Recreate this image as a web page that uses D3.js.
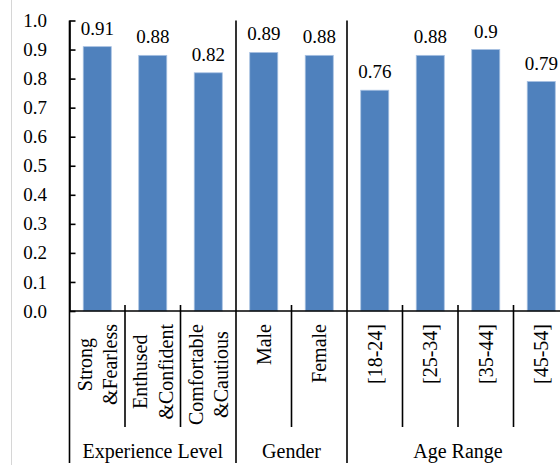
<!DOCTYPE html>
<html>
<head>
<meta charset="utf-8">
<script src="https://cdn.jsdelivr.net/npm/d3@7"></script>
<style>
  html, body { margin: 0; padding: 0; background: #fff; }
  svg { display: block; }
  text { font-family: "Liberation Serif", "Times New Roman", serif; fill: #000; }
</style>
</head>
<body>
<svg id="chart" width="560" height="466"></svg>
<script>
// Category labels (lines separated by "\n"), the group each belongs to, and scores
const categories = [
  "Strong\n&Fearless", "Enthused\n&Confident", "Comfortable\n&Cautious",
  "Male", "Female",
  "[18-24]", "[25-34]", "[35-44]", "[45-54]"
];
const groupOf = [
  "Experience Level", "Experience Level", "Experience Level",
  "Gender", "Gender",
  "Age Range", "Age Range", "Age Range", "Age Range"
];
const groups = ["Experience Level", "Gender", "Age Range"];
const values = [0.91, 0.88, 0.82, 0.89, 0.88, 0.76, 0.88, 0.9, 0.79];
const yTicks = [0, 0.1, 0.2, 0.3, 0.4, 0.5, 0.6, 0.7, 0.8, 0.9, 1.0];

const svg = d3.select("#chart");

const plotLeft = 69.5, step = 55.5;
const plotRight = plotLeft + step * categories.length;
const plotTop = 20.5, plotBottom = 311;
const groupLineBottom = 463;

const x = d3.scaleBand()
  .domain(d3.range(categories.length))
  .range([plotLeft, plotRight])
  .paddingInner(0.495)
  .paddingOuter(0.2475);

const y = d3.scaleLinear().domain([0, 1]).range([plotBottom, plotTop]);

// faint frame line on the left
svg.append("line")
  .attr("x1", 11.5).attr("x2", 11.5).attr("y1", 0).attr("y2", 465)
  .attr("stroke", "#d6d6d6").attr("stroke-width", 1);

// bars
svg.append("g").selectAll("rect")
  .data(values)
  .join("rect")
  .attr("x", (d, i) => x(i))
  .attr("width", x.bandwidth())
  .attr("y", d => y(d))
  .attr("height", d => y(0) - y(d))
  .attr("fill", "#4F81BD")
  .attr("stroke", "#a7c0e2")
  .attr("stroke-width", 0.8);

// value labels
svg.append("g").selectAll("text")
  .data(values)
  .join("text")
  .attr("x", (d, i) => x(i) + x.bandwidth() / 2)
  .attr("y", d => y(d) - 12)
  .attr("text-anchor", "middle")
  .attr("font-size", 19)
  .text(d => String(d));

// y axis: ticks point into the plot, labels on the left
const yAxis = d3.axisLeft(y)
  .tickValues(yTicks)
  .tickFormat(d3.format(".1f"))
  .tickSize(-6)
  .tickSizeOuter(0)
  .tickPadding(22.5);

const yg = svg.append("g")
  .attr("transform", `translate(${plotLeft},0)`)
  .call(yAxis);
yg.selectAll("path, line").attr("stroke", "#000").attr("stroke-width", 1.6);
yg.selectAll("text")
  .attr("font-size", 19)
  .attr("font-family", "Liberation Serif, Times New Roman, serif")
  .attr("fill", "#000");

// x axis baseline
svg.append("line")
  .attr("x1", plotLeft).attr("x2", plotRight)
  .attr("y1", y(0)).attr("y2", y(0))
  .attr("stroke", "#000").attr("stroke-width", 1.6);

// boundaries between categories within a group
const innerBounds = [];
const groupBounds = [plotLeft];
for (let i = 1; i < categories.length; i++) {
  const bx = plotLeft + step * i;
  if (groupOf[i] !== groupOf[i - 1]) groupBounds.push(bx);
  else innerBounds.push(bx);
}
groupBounds.push(plotRight);

svg.append("g").selectAll("line")
  .data(innerBounds)
  .join("line")
  .attr("x1", d => d).attr("x2", d => d)
  .attr("y1", y(0) - 6).attr("y2", 427)
  .attr("stroke", "#000").attr("stroke-width", 1.6);

// boundaries between groups span the full height
svg.append("g").selectAll("line")
  .data(groupBounds)
  .join("line")
  .attr("x1", d => d).attr("x2", d => d)
  .attr("y1", plotTop).attr("y2", groupLineBottom)
  .attr("stroke", "#000").attr("stroke-width", 1.6);

// rotated category labels, block anchored just below the axis, lines centred
const labelTop = 324;
const lineGap = 25.5;
categories.forEach((label, i) => {
  const lines = label.split("\n");
  const cx = x(i) + x.bandwidth() / 2;
  const g = svg.append("g")
    .attr("transform", `translate(${cx},${labelTop}) rotate(-90)`);
  const texts = lines.map((ln, k) => g.append("text")
    .attr("font-size", 20)
    .attr("text-anchor", "middle")
    .attr("y", (k - (lines.length - 1) / 2) * lineGap)
    .attr("dy", "0.35em")
    .text(ln));
  const maxLen = d3.max(texts, t => t.node().getComputedTextLength());
  texts.forEach(t => t.attr("x", -maxLen / 2));
});

// group labels
groups.forEach(gname => {
  const idx = groupOf.map((g, i) => g === gname ? i : -1).filter(i => i >= 0);
  const gx0 = plotLeft + step * idx[0];
  const gx1 = plotLeft + step * (idx[idx.length - 1] + 1);
  svg.append("text")
    .attr("x", (gx0 + gx1) / 2)
    .attr("y", 458)
    .attr("text-anchor", "middle")
    .attr("font-size", 20)
    .text(gname);
});
</script>
</body>
</html>
